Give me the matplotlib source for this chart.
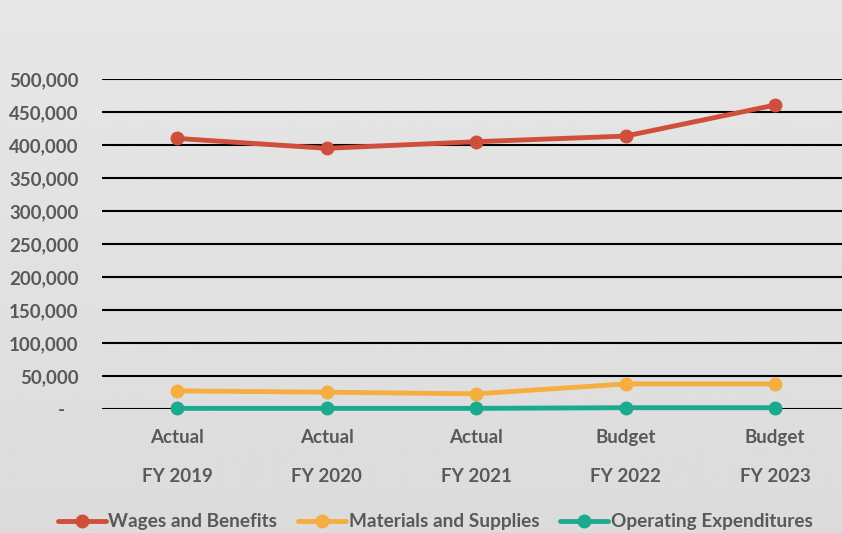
import numpy as np
import matplotlib.pyplot as plt
from matplotlib.ticker import FuncFormatter

categories=['Actual\n\nFY 2019','Actual\n\nFY 2020','Actual\n\nFY 2021','Budget\n\nFY 2022','Budget\n\nFY 2023']
wages=[410000,395000,405000,413500,460500]
materials=[27500,25500,23000,38000,38000]
operating=[1000,1000,1000,2000,2000]
names=['Wages and Benefits','Materials and Supplies','Operating Expenditures']
colors=['#CF4F3C','#F5AE3F','#1BAA8E']

plt.rcParams['font.family']=['Lato','DejaVu Sans']
plt.rcParams['font.weight']='bold'
txt='#595959'

fig=plt.figure(figsize=(8.42,5.33),dpi=100)
bg=fig.add_axes([0,0,1,1],zorder=-10)
grad=np.linspace(0.905,0.86,200).reshape(-1,1)
bg.imshow(np.repeat(grad,2,axis=1),cmap='gray',vmin=0,vmax=1,aspect='auto',extent=[0,1,0,1])
bg.axis('off')

ax=fig.add_axes([0.1211,0.2326,0.8789,0.6192])
ax.patch.set_alpha(0)
x=np.arange(len(categories))
for vals,name,c in zip([wages,materials,operating],names,colors):
    ax.plot(x,vals,color=c,lw=3.5,marker='o',ms=9,label=name,clip_on=False,zorder=3,solid_capstyle='round')
ax.set_ylim(0,500000)
ax.set_xlim(-0.502,4.448)
ax.set_yticks(np.arange(0,500001,50000))
ax.yaxis.set_major_formatter(FuncFormatter(lambda v,p:'-   ' if v==0 else f'{int(v):,}'))
ax.yaxis.grid(True,color='black',lw=1.5)
ax.set_axisbelow(True)
for s in ax.spines.values():
    s.set_visible(False)
ax.tick_params(axis='both',length=0,colors=txt,labelsize=13.5)
ax.tick_params(axis='y',pad=17)
ax.tick_params(axis='x',pad=14.5)
ax.set_xticks(x)
ax.set_xticklabels(categories,linespacing=1.16)
leg=fig.legend(loc='lower center',bbox_to_anchor=(0.517,-0.027),ncol=3,frameon=False,fontsize=13.7,handlelength=2.5,handletextpad=0.15,columnspacing=1.1)
for t in leg.get_texts():
    t.set_color(txt)
fig.savefig('out.png',dpi=100)
